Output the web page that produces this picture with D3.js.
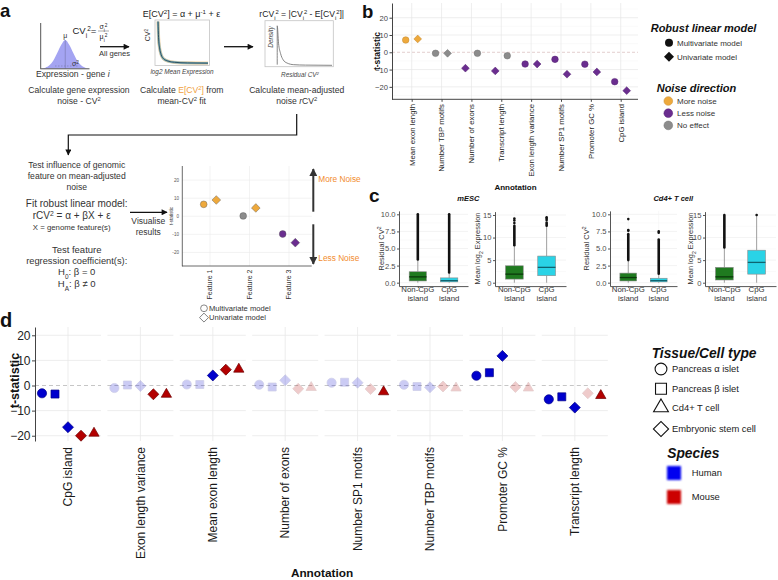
<!DOCTYPE html>
<html><head><meta charset="utf-8">
<script src="https://cdn.jsdelivr.net/npm/d3@7"></script>
<style>
body{margin:0;background:#fff}
svg{display:block}
text{font-family:"Liberation Sans",Arial,Helvetica,sans-serif}
</style>
</head><body>
<svg id="fig" width="778" height="580"></svg>
<script>
// ================= DATA =================
// Panel a: schematic example
const aFeatures = ["Feature 1","Feature 2","Feature 3"];
const aMultivariate = [6.6, 0.2, -9.8];
const aUnivariate = [9.0, 4.6, -14.6];
const aMultiDirection = ["More noise","No effect","Less noise"];
const aUniDirection = ["More noise","More noise","Less noise"];
const aTicks = [-20,-10,0,10,20];
const aBellHeights = [0,0.03,0.11,0.28,0.55,0.83,1.0,0.83,0.55,0.28,0.11,0.03,0];
const aFitCurve = [[0.03,1.0],[0.04,0.62],[0.06,0.38],[0.09,0.22],[0.14,0.12],[0.22,0.07],[0.35,0.04],[0.6,0.025],[1.0,0.02]];
const aDensityCurve = [[0.17,0.02],[0.17,0.98],[0.19,0.55],[0.22,0.3],[0.26,0.14],[0.32,0.06],[0.42,0.02],[0.6,0.01],[1.0,0.005]];

// Panel b
const bCategories = ["Mean exon length","Number TBP motifs","Number of exons","Transcript length","Exon length variance","Number SP1 motifs","Promoter GC %","CpG island"];
const bMultivariate = [7.1,-0.6,-0.6,-2.0,-6.8,-4.1,-6.9,-17.0];
const bUnivariate = [7.7,-0.6,-9.2,-10.8,-6.8,-12.7,-11.4,-22.2];
const bMultiDirection = ["More noise","No effect","No effect","No effect","Less noise","Less noise","Less noise","Less noise"];
const bUniDirection = ["More noise","No effect","Less noise","Less noise","Less noise","Less noise","Less noise","Less noise"];
const bTicks = [-20,-10,0,10,20];
const noiseDirections = ["More noise","Less noise","No effect"];
const noiseColors = ["#eea93c","#6a2d8f","#8c8c8c"];
const modelNames = ["Multivariate model","Univariate model"];

// Panel c
const cGroups = [["Non-CpG","island"],["CpG","island"]];
const cResidualTicks = [0,2.5,5,7.5,10];
const cResidualTickLabels = ["0.0","2.5","5.0","7.5","10.0"];
const cExpressionTicks = [0,5,10,15];
// [lower whisker, Q1, median, Q3, upper whisker]
const cMescResidualStats = [[0,0.25,0.85,1.6,3.4],[0,0.12,0.3,0.7,1.5]];
const cMescResidualDense = [[3.4,10.0],[1.5,10.0]];
const cMescResidualOutliers = [[],[]];
const cMescExpressionStats = [[0,0.8,1.9,3.75,8.3],[0,1.55,3.4,5.9,12.6]];
const cMescExpressionDense = [[8.3,12.6],[12.6,13.3]];
const cMescExpressionOutliers = [[13.2,13.8,14.2],[13.9,14.2,14.5]];
const cCd4ResidualStats = [[0,0.25,0.75,1.4,3.3],[0,0.12,0.3,0.65,1.3]];
const cCd4ResidualDense = [[3.3,7.1],[1.3,6.3]];
const cCd4ResidualOutliers = [[7.6,7.7,9.3],[7.3,7.5]];
const cCd4ExpressionStats = [[0,0.6,1.3,3.4,7.8],[0,1.9,4.5,7.2,14.8]];
const cCd4ExpressionDense = [[7.8,15.0],null];
const cCd4ExpressionOutliers = [[],[15.0]];
const cBoxColors = ["#1f7a1f","#2ad3e6"];
const cMedianColors = ["#0b3a0b","#0e6470"];

// Panel d
const dFeatures = ["CpG island","Exon length variance","Mean exon length","Number of exons","Number SP1 motifs","Number TBP motifs","Promoter GC %","Transcript length"];
const dSamples = ["Human α islet","Human β islet","Human ESC","Mouse ESC","Mouse Cd4+ T cell"];
const dSampleShape = ["circle","square","diamond","diamond","triangle"];
const dSampleSpecies = ["Human","Human","Human","Mouse","Mouse"];
const dValues = [
  [-3.1,-3.4,-16.6,-20.0,-19.0],
  [-1.0,0.2,-0.2,-3.5,-3.5],
  [0.4,0.4,4.0,6.3,6.5],
  [0.3,-0.6,2.1,-1.3,-0.8],
  [1.1,1.3,1.1,-1.4,-2.5],
  [0.3,-0.4,-0.7,-0.4,-1.0],
  [3.9,5.1,11.8,-0.6,-1.0],
  [-5.5,-4.5,-8.8,-3.1,-4.0]];
const dSignificant = [
  [1,1,1,1,1],
  [0,0,0,1,1],
  [0,0,1,1,1],
  [0,0,0,0,0],
  [0,0,0,0,1],
  [0,0,0,0,0],
  [1,1,1,0,0],
  [1,1,1,0,1]];
const dTicks = [-20,-10,0,10,20];
const dTissueLegend = ["Pancreas α islet","Pancreas β islet","Cd4+ T cell","Embryonic stem cell"];
const dTissueShapes = ["circle","square","triangle","diamond"];
const dSpecies = ["Human","Mouse"];
const dSpeciesColors = ["#0000cd","#b30000"];
const dSpeciesStroke = ["#00008a","#6e0000"];
const dSpeciesKeyColors = ["#0000f0","#cc0000"];

// ================= HELPERS =================
const svg = d3.select("#fig");
const defs = svg.append("defs");
defs.append("marker").attr("id","ah").attr("viewBox","0 0 10 10").attr("refX",9).attr("refY",5)
  .attr("markerUnits","userSpaceOnUse").attr("markerWidth",7).attr("markerHeight",6).attr("orient","auto")
  .append("path").attr("d","M0,0L10,5L0,10z").attr("fill","#111");
defs.append("marker").attr("id","ahBig").attr("viewBox","0 0 10 10").attr("refX",9).attr("refY",5)
  .attr("markerUnits","userSpaceOnUse").attr("markerWidth",8).attr("markerHeight",8).attr("orient","auto")
  .append("path").attr("d","M0,0L10,5L0,10z").attr("fill","#333");
defs.append("filter").attr("id","blur").append("feGaussianBlur").attr("stdDeviation",0.9);

function txt(g, x, y, str, o={}) {
  const t = g.append("text").attr("x",x).attr("y",y).text(str)
    .attr("font-size", o.size||9).attr("fill", o.fill||"#222")
    .attr("text-anchor", o.anchor||"start");
  if (o.weight) t.attr("font-weight", o.weight);
  if (o.italic) t.attr("font-style","italic");
  if (o.rotate) t.attr("transform", `rotate(${o.rotate},${x},${y})`);
  return t;
}
function rich(g, x, y, parts, o={}) {
  const size = o.size||9;
  const t = g.append("text").attr("x",x).attr("y",y)
    .attr("font-size", size).attr("fill", o.fill||"#222")
    .attr("text-anchor", o.anchor||"start");
  if (o.rotate) t.attr("transform", `rotate(${o.rotate},${x},${y})`);
  if (o.weight) t.attr("font-weight", o.weight);
  parts.forEach(p => {
    const s = t.append("tspan").text(p.t);
    if (p.sup) s.attr("baseline-shift","super").attr("font-size", size*0.68);
    if (p.sub) s.attr("baseline-shift","sub").attr("font-size", size*0.68);
    if (p.italic) s.attr("font-style","italic");
    if (p.fill) s.attr("fill", p.fill);
  });
  return t;
}
const symMap = {circle:d3.symbolCircle, square:d3.symbolSquare, triangle:d3.symbolTriangle, diamond:d3.symbolSquare};
function sym(g, type, x, y, area) {
  return g.append("path").attr("d", d3.symbol(symMap[type], area)())
    .attr("transform", `translate(${x},${y})` + (type==="diamond" ? " rotate(45)" : ""));
}
function line(g, x1, y1, x2, y2, stroke, w) {
  return g.append("line").attr("x1",x1).attr("y1",y1).attr("x2",x2).attr("y2",y2)
    .attr("stroke",stroke).attr("stroke-width",w);
}
const dirColor = d => noiseColors[noiseDirections.indexOf(d)];

// ================= PANEL A =================
const gA = svg.append("g");
txt(gA, 0, 17, "a", {size:18.5, weight:"bold", fill:"#111"});

// Bell curve
const bellX = d3.scaleLinear().domain([0, aBellHeights.length-1]).range([41.5, 89]);
const bellY = d3.scaleLinear().domain([0,1]).range([68.5, 40]);
gA.append("path").datum(aBellHeights)
  .attr("d", d3.area().x((d,i)=>bellX(i)).y0(68.5).y1(d=>bellY(d)).curve(d3.curveMonotoneX))
  .attr("fill","#a4a4f2");
line(gA, bellX(6), bellY(1), bellX(6), 68.5, "#7777aa", 0.6);
line(gA, 55, 66, 79, 66, "#7777aa", 0.6).attr("stroke-dasharray","1.5,1.5");
line(gA, 40.7, 23, 40.7, 68.8, "#555", 1);
line(gA, 40.3, 68.8, 89.5, 68.8, "#555", 1);
txt(gA, bellX(6), 38, "μ", {size:7, anchor:"middle", fill:"#333"});
rich(gA, 72, 66, [{t:"σ"},{t:"2",sup:1}], {size:7, fill:"#333"});
rich(gA, 72.5, 34, [{t:"CV"},{t:"i",sub:1},{t:"2",sup:1},{t:"="}], {size:9.5});
rich(gA, 103.5, 29, [{t:"σ"},{t:"i",sub:1},{t:"2",sup:1}], {size:7, anchor:"middle"});
line(gA, 98, 31, 109, 31, "#555", 0.5);
rich(gA, 103.5, 38.5, [{t:"μ"},{t:"i",sub:1},{t:"2",sup:1}], {size:7, anchor:"middle"});
rich(gA, 36, 77, [{t:"Expression - gene "},{t:"i",italic:1}], {size:8.6, fill:"#333"});

line(gA, 100, 46.7, 129, 46.7, "#111", 1.3).attr("marker-end","url(#ah)");
txt(gA, 114.5, 56, "All genes", {size:7.6, anchor:"middle", fill:"#333"});

// thumbnail 1: mean-CV2
gA.append("rect").attr("x",155).attr("y",20).attr("width",54.5).attr("height",45.5)
  .attr("fill","#fff").attr("stroke","#c4c4c4").attr("stroke-width",0.8);
const t1x = d3.scaleLinear().domain([0,1]).range([156.5,208]);
const t1y = d3.scaleLinear().domain([0,1]).range([64,21.5]);
const fitLine = d3.line().x(d=>t1x(d[0])).y(d=>t1y(d[1])).curve(d3.curveMonotoneX);
gA.append("path").datum(aFitCurve).attr("d",fitLine).attr("fill","none")
  .attr("stroke","#f2b35c").attr("stroke-width",3.2).attr("opacity",0.55);
gA.append("path").datum(aFitCurve).attr("d",fitLine).attr("fill","none")
  .attr("stroke","#4a9fc0").attr("stroke-width",2.4).attr("opacity",0.6);
gA.append("path").datum(aFitCurve).attr("d",fitLine).attr("fill","none")
  .attr("stroke","#1b3f55").attr("stroke-width",1).attr("opacity",0.85);
rich(gA, 150, 35, [{t:"CV"},{t:"2",sup:1}], {size:7, rotate:-90, anchor:"middle", fill:"#333"});
txt(gA, 182, 74, "log2 Mean Expression", {size:6.4, italic:true, anchor:"middle", fill:"#444"});
rich(gA, 181.5, 17, [{t:"E[CV"},{t:"2",sup:1},{t:"] = α + μ"},{t:"-1",sup:1},{t:" + ε"}], {size:9, anchor:"middle"});

line(gA, 224, 46.7, 253, 46.7, "#111", 1.3).attr("marker-end","url(#ah)");

// thumbnail 2: density
gA.append("rect").attr("x",265).attr("y",20.7).attr("width",68.3).attr("height",46)
  .attr("fill","#fff").attr("stroke","#c4c4c4").attr("stroke-width",0.8);
const t2x = d3.scaleLinear().domain([0,1]).range([266,332]);
const t2y = d3.scaleLinear().domain([0,1]).range([65.5,25]);
gA.append("path").datum(aDensityCurve)
  .attr("d", d3.line().x(d=>t2x(d[0])).y(d=>t2y(d[1])).curve(d3.curveMonotoneX))
  .attr("fill","none").attr("stroke","#777").attr("stroke-width",0.9);
txt(gA, 273, 37, "Density", {size:6.4, italic:true, anchor:"middle", rotate:-90, fill:"#444"});
rich(gA, 300, 77, [{t:"Residual CV"},{t:"2",sup:1}], {size:6.4, anchor:"middle", fill:"#444"}).attr("font-style","italic");
rich(gA, 301.7, 17, [{t:"rCV"},{t:"i",sub:1},{t:"2",sup:1},{t:" = |CV"},{t:"i",sub:1},{t:"2",sup:1},{t:" - E[CV"},{t:"i",sub:1},{t:"2",sup:1},{t:"]|"}], {size:8.6, anchor:"middle"});

// captions
txt(gA, 79, 92.5, "Calculate gene expression", {size:8.6, anchor:"middle", fill:"#333"});
rich(gA, 79, 103.5, [{t:"noise - CV"},{t:"2",sup:1}], {size:8.6, anchor:"middle", fill:"#333"});
rich(gA, 181.7, 92.5, [{t:"Calculate "},{t:"E[CV",fill:"#f0a040"},{t:"2",sup:1,fill:"#f0a040"},{t:"]",fill:"#f0a040"},{t:" from"}], {size:8.6, anchor:"middle", fill:"#333"});
rich(gA, 181.7, 103.5, [{t:"mean-CV"},{t:"2",sup:1},{t:" fit"}], {size:8.6, anchor:"middle", fill:"#333"});
txt(gA, 296.7, 92.5, "Calculate mean-adjusted", {size:8.6, anchor:"middle", fill:"#333"});
rich(gA, 296.7, 103.5, [{t:"noise "},{t:"r",italic:1},{t:"CV"},{t:"2",sup:1}], {size:8.6, anchor:"middle", fill:"#333"});

// connector
gA.append("path").attr("d","M296.7,114V135H68.3V155").attr("fill","none")
  .attr("stroke","#111").attr("stroke-width",1.2).attr("marker-end","url(#ah)");

// method text
txt(gA, 76.7, 167.5, "Test influence of genomic", {size:8.6, anchor:"middle", fill:"#333"});
txt(gA, 76.7, 178.5, "feature on mean-adjusted", {size:8.6, anchor:"middle", fill:"#333"});
txt(gA, 76.7, 189.5, "noise", {size:8.6, anchor:"middle", fill:"#333"});
txt(gA, 76.7, 206.5, "Fit robust linear model:", {size:10, anchor:"middle", fill:"#333"});
rich(gA, 71.7, 219, [{t:"rCV"},{t:"2",sup:1},{t:" = α + βX + ε"}], {size:10, anchor:"middle", fill:"#333"});
txt(gA, 71.7, 230, "X = genome feature(s)", {size:7.8, anchor:"middle", fill:"#333"});
txt(gA, 76.7, 252.5, "Test feature", {size:9.5, anchor:"middle", fill:"#333"});
txt(gA, 76.7, 263.5, "regression coefficient(s):", {size:9.3, anchor:"middle", fill:"#333"});
rich(gA, 76.7, 275, [{t:"H"},{t:"0",sub:1},{t:": β = 0"}], {size:9.5, anchor:"middle", fill:"#333"});
rich(gA, 76.7, 287, [{t:"H"},{t:"A",sub:1},{t:": β ≠ 0"}], {size:9.5, anchor:"middle", fill:"#333"});

line(gA, 130, 212.3, 167, 212.3, "#111", 1.3).attr("marker-end","url(#ah)");
txt(gA, 148.3, 224, "Visualise", {size:8.5, anchor:"middle", fill:"#333"});
txt(gA, 148.3, 234.5, "results", {size:8.5, anchor:"middle", fill:"#333"});

// mini chart
const ax = d3.scalePoint().domain(aFeatures).range([210, 289]);
const ay = d3.scaleLinear().domain([-27.5, 27.8]).range([266, 166]);
aTicks.forEach(t => line(gA, 182.3, ay(t), 311.7, ay(t), "#ebebeb", 0.6));
aFeatures.forEach(f => line(gA, ax(f), 166, ax(f), 266, "#ebebeb", 0.6));
line(gA, 182.3, 166, 182.3, 266.3, "#444", 0.8);
line(gA, 182, 266, 311.7, 266, "#444", 0.8);
aTicks.forEach(t => txt(gA, 179, ay(t)+1.7, String(t), {size:4.6, anchor:"end", fill:"#555"}));
txt(gA, 172.5, 216, "t-statistic", {size:4.6, anchor:"middle", rotate:-90, fill:"#333"});
aFeatures.forEach(f => txt(gA, ax(f)+2.4, 269.5, f, {size:7, anchor:"end", rotate:-90, fill:"#333"}));
aFeatures.forEach((f,i) => {
  sym(gA, "circle", ax(f)-6.3, ay(aMultivariate[i]), 36).attr("fill", dirColor(aMultiDirection[i])).attr("stroke","#555").attr("stroke-width",0.4);
  sym(gA, "diamond", ax(f)+6.3, ay(aUnivariate[i]), 38).attr("fill", dirColor(aUniDirection[i])).attr("stroke","#555").attr("stroke-width",0.4);
});
line(gA, 313.3, 211.7, 313.3, 169, "#333", 2).attr("marker-end","url(#ahBig)");
line(gA, 313.3, 224.3, 313.3, 264, "#333", 2).attr("marker-end","url(#ahBig)");
txt(gA, 318.3, 182, "More Noise", {size:8.3, fill:"#f28c2e"});
txt(gA, 318.3, 261, "Less Noise", {size:8.3, fill:"#f28c2e"});
sym(gA, "circle", 204, 308.3, 36).attr("fill","#fff").attr("stroke","#555").attr("stroke-width",0.7);
sym(gA, "diamond", 204, 317.6, 40).attr("fill","#fff").attr("stroke","#555").attr("stroke-width",0.7);
txt(gA, 209, 311, modelNames[0], {size:7.6, fill:"#333"});
txt(gA, 209, 320.3, modelNames[1], {size:7.6, fill:"#333"});

// ================= PANEL B =================
const gB = svg.append("g");
txt(gB, 362, 17.5, "b", {size:18.5, weight:"bold", fill:"#111"});
const bx = d3.scalePoint().domain(bCategories).range([411.7, 620.7]);
const by = d3.scaleLinear().domain([-27.2, 28.5]).range([99.3, 3]);
[-25,-15,-5,5,15,25].forEach(t => line(gB, 392, by(t), 638, by(t), "#f4f4f4", 0.5));
bTicks.filter(t=>t!==0).forEach(t => line(gB, 392, by(t), 638, by(t), "#e6e6e6", 0.7));
bCategories.forEach(c => line(gB, bx(c), 3, bx(c), 99.3, "#e6e6e6", 0.7));
line(gB, 392, by(0), 638, by(0), "#dcc2c2", 0.8).attr("stroke-dasharray","3,2");
const bAxisL = gB.append("g").attr("transform","translate(392,0)")
  .call(d3.axisLeft(by).tickValues(bTicks).tickSize(2.5).tickSizeOuter(0).tickPadding(1.5));
bAxisL.select(".domain").attr("stroke","#444");
bAxisL.selectAll(".tick line").attr("stroke","#444");
bAxisL.selectAll("text").attr("font-size",7.6).attr("fill","#444").attr("font-family",null);
const bAxisB = gB.append("g").attr("transform","translate(0,99.3)")
  .call(d3.axisBottom(bx).tickSize(2.5).tickSizeOuter(0).tickFormat(""));
bAxisB.select(".domain").attr("stroke","#444").attr("d","M392,0H638");
bAxisB.selectAll(".tick line").attr("stroke","#444");
bCategories.forEach(c => txt(gB, bx(c)+2.8, 104, c, {size:7.8, anchor:"end", rotate:-90, fill:"#1a1a1a"}));
txt(gB, 515.5, 190, "Annotation", {size:8, weight:"bold", anchor:"middle", fill:"#111"});
txt(gB, 379.5, 51, "t-statistic", {size:8.6, weight:"bold", anchor:"middle", rotate:-90, fill:"#111"});

bCategories.forEach((c,i) => {
  const pts = [
    {model:0, t:bMultivariate[i], dir:bMultiDirection[i]},
    {model:1, t:bUnivariate[i], dir:bUniDirection[i]}
  ].sort((a,b) => (noiseDirections.indexOf(a.dir)-noiseDirections.indexOf(b.dir)) || (a.model-b.model));
  pts.forEach((p,k) => {
    const x = bx(c) + (k===0 ? -6 : 6);
    const col = dirColor(p.dir);
    sym(gB, p.model===0 ? "circle" : "diamond", x, by(p.t), p.model===0 ? 34 : 30)
      .attr("fill", col).attr("stroke", d3.color(col).darker(0.6)).attr("stroke-width",0.5);
  });
});

// legends
txt(gB, 650.7, 32, "Robust linear model", {size:11, weight:"bold", fill:"#111"}).attr("font-style","italic");
sym(gB, "circle", 669, 42.7, 50).attr("fill","#111");
sym(gB, "diamond", 669, 56.7, 50).attr("fill","#111");
txt(gB, 677, 45.5, modelNames[0], {size:8, fill:"#333"});
txt(gB, 677, 59.5, modelNames[1], {size:8, fill:"#333"});
txt(gB, 656.7, 92, "Noise direction", {size:11, weight:"bold", fill:"#111"}).attr("font-style","italic");
noiseDirections.forEach((d,i) => {
  const y = 101 + i*12.2;
  sym(gB, "circle", 668.3, y, 60).attr("fill", noiseColors[i]).attr("stroke", d3.color(noiseColors[i]).darker(0.5)).attr("stroke-width",0.5);
  txt(gB, 677, y+3, d, {size:8, fill:"#333"});
});

// ================= PANEL C =================
const gC = svg.append("g");
txt(gC, 369, 202, "c", {size:19, weight:"bold", fill:"#111"});
txt(gC, 468.3, 201, "mESC", {size:7.5, weight:"bold", anchor:"middle", fill:"#111"}).attr("font-style","italic");
txt(gC, 673.3, 201, "Cd4+ T cell", {size:7.5, weight:"bold", anchor:"middle", fill:"#111"}).attr("font-style","italic");

const cPlots = [
  {x0:399, x1:468, stats:cMescResidualStats, dense:cMescResidualDense, out:cMescResidualOutliers, kind:"res", tx:381},
  {x0:495, x1:566, stats:cMescExpressionStats, dense:cMescExpressionDense, out:cMescExpressionOutliers, kind:"exp", tx:477.7},
  {x0:610, x1:677, stats:cCd4ResidualStats, dense:cCd4ResidualDense, out:cCd4ResidualOutliers, kind:"res", tx:586.7},
  {x0:705, x1:776, stats:cCd4ExpressionStats, dense:cCd4ExpressionDense, out:cCd4ExpressionOutliers, kind:"exp", tx:690}
];
cPlots.forEach(p => {
  const g = gC.append("g");
  const y = p.kind==="res"
    ? d3.scaleLinear().domain([-0.5,10.5]).range([286.1,210.9])
    : d3.scaleLinear().domain([-0.75,15.75]).range([286.1,211.6]);
  const ticks = p.kind==="res" ? cResidualTicks : cExpressionTicks;
  const x = d3.scalePoint().domain([0,1]).range([p.x0,p.x1]).padding(0.6);
  const bw = x.step()*0.55;
  // grid
  const minor = ticks.slice(0,-1).map((t,i)=>(t+ticks[i+1])/2);
  minor.forEach(t => line(g, p.x0, y(t), p.x1, y(t), "#f5f5f5", 0.5));
  ticks.forEach(t => line(g, p.x0, y(t), p.x1, y(t), "#ebebeb", 0.6));
  [0,1].forEach(k => line(g, x(k), y.range()[1], x(k), y.range()[0], "#f2f2f2", 0.6));
  // axes
  const axL = g.append("g").attr("transform",`translate(${p.x0},0)`)
    .call(d3.axisLeft(y).tickValues(ticks).tickSize(2).tickSizeOuter(0).tickPadding(1.5)
      .tickFormat((d,i) => p.kind==="res" ? cResidualTickLabels[i] : String(d)));
  axL.select(".domain").attr("stroke","#555");
  axL.selectAll(".tick line").attr("stroke","#555");
  axL.selectAll("text").attr("font-size",7.6).attr("fill","#4d4d4d").attr("font-family",null);
  const axB = g.append("g").attr("transform",`translate(0,${y.range()[0]})`)
    .call(d3.axisBottom(x).tickSize(2).tickSizeOuter(0).tickFormat(""));
  axB.select(".domain").attr("stroke","#555");
  axB.selectAll(".tick line").attr("stroke","#555");
  // labels
  [0,1].forEach(k => {
    txt(g, x(k), 292, cGroups[k][0], {size:7.8, anchor:"middle", fill:"#333"});
    txt(g, x(k), 300.5, cGroups[k][1], {size:7.8, anchor:"middle", fill:"#333"});
  });
  if (p.kind==="res")
    rich(g, p.tx+2.5, 248.5, [{t:"Residual CV"},{t:"2",sup:1}], {size:7.4, anchor:"middle", rotate:-90, fill:"#333"});
  else
    rich(g, p.tx+2.5, 248.5, [{t:"Mean log"},{t:"2",sub:1},{t:" Expression"}], {size:7.4, anchor:"middle", rotate:-90, fill:"#333"});
  // boxes
  [0,1].forEach(k => {
    const s = p.stats[k], cx = x(k);
    line(g, cx, y(s[0]), cx, y(s[1]), "#8a8a8a", 0.8);
    line(g, cx, y(s[3]), cx, y(s[4]), "#8a8a8a", 0.8);
    if (p.dense[k]) line(g, cx, y(p.dense[k][0]), cx, y(p.dense[k][1]), "#111", 2.6).attr("stroke-linecap","round");
    p.out[k].forEach(v => g.append("circle").attr("cx",cx).attr("cy",y(v)).attr("r",1.3).attr("fill","#111"));
    g.append("rect").attr("x",cx-bw/2).attr("y",y(s[3])).attr("width",bw).attr("height",y(s[1])-y(s[3]))
      .attr("fill",cBoxColors[k]).attr("stroke","#8a8a8a").attr("stroke-width",0.6);
    line(g, cx-bw/2, y(s[2]), cx+bw/2, y(s[2]), cMedianColors[k], 1.3);
  });
});

// ================= PANEL D =================
const gD = svg.append("g");
txt(gD, 0, 327, "d", {size:20, weight:"bold", fill:"#111"});
const dFacet = d3.scalePoint().domain(dFeatures).range([68, 574.8]);
const dInner = d3.scalePoint().domain(dSamples).range([-26, 26]);
const dy = d3.scaleLinear().domain([-22.1, 23.3]).range([441, 327]);
const halfW = 33;
dFeatures.forEach((f,i) => {
  const cx = dFacet(f);
  dTicks.filter(t=>t!==0).forEach(t => line(gD, cx-halfW, dy(t), cx+halfW, dy(t), "#e8e8e8", 0.8));
  line(gD, cx, 327, cx, 441, "#e8e8e8", 0.8);
  line(gD, cx-halfW, dy(0), cx+halfW, dy(0), "#c6c6c6", 1.1).attr("stroke-dasharray","4,3");
});
const dAxis = gD.append("g").attr("transform","translate(35,0)")
  .call(d3.axisLeft(dy).tickValues(dTicks).tickSize(3).tickSizeOuter(0).tickPadding(1.5));
dAxis.select(".domain").attr("stroke","#444").attr("stroke-width",1);
dAxis.selectAll(".tick line").attr("stroke","#444");
dAxis.selectAll("text").attr("font-size",12).attr("fill","#222").attr("font-family",null);
txt(gD, 18.5, 380.5, "t-statistic", {size:12.5, weight:"bold", anchor:"middle", rotate:-90, fill:"#111"});
dFeatures.forEach(f => txt(gD, dFacet(f)+4.2, 447, f, {size:12, anchor:"end", rotate:-90, fill:"#1a1a1a"}));
txt(gD, 322, 577, "Annotation", {size:11.8, weight:"bold", anchor:"middle", fill:"#111"});

const symArea = {circle:66, square:64, diamond:60, triangle:46};
dFeatures.forEach((f,i) => {
  dSamples.forEach((s,j) => {
    const sp = dSpecies.indexOf(dSampleSpecies[j]);
    const shape = dSampleShape[j];
    sym(gD, shape, dFacet(f)+dInner(s), dy(dValues[i][j]), symArea[shape])
      .attr("fill", dSpeciesColors[sp]).attr("stroke", dSpeciesStroke[sp]).attr("stroke-width",0.7)
      .attr("opacity", dSignificant[i][j] ? 1 : 0.2);
  });
});

// legends
txt(gD, 651.7, 357.5, "Tissue/Cell type", {size:13.8, weight:"bold", fill:"#111"}).attr("font-style","italic");
const legY = [369, 388.7, 407.5, 429];
const legArea = {circle:110, square:120, triangle:95, diamond:115};
dTissueLegend.forEach((t,i) => {
  sym(gD, dTissueShapes[i], 661, legY[i], legArea[dTissueShapes[i]]).attr("fill","none").attr("stroke","#111").attr("stroke-width",1.1);
  txt(gD, 672, legY[i]+3.3, t, {size:9.4, fill:"#222"});
});
txt(gD, 693.3, 458, "Species", {size:13.8, weight:"bold", anchor:"middle", fill:"#111"}).attr("font-style","italic");
dSpecies.forEach((s,i) => {
  const y = 473 + i*24;
  gD.append("rect").attr("x",667).attr("y",y-7).attr("width",14).attr("height",14)
    .attr("fill",dSpeciesKeyColors[i]).attr("filter","url(#blur)");
  txt(gD, 691.7, y+3.3, s, {size:9.4, fill:"#222"});
});
</script>
</body></html>
